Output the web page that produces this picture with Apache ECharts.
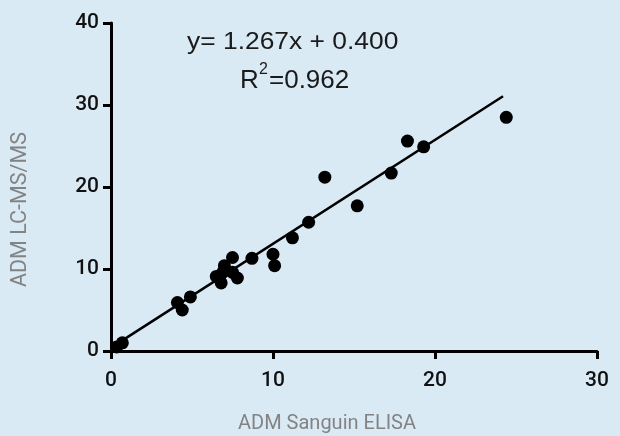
<!DOCTYPE html>
<html>
<head>
<meta charset="utf-8">
<script src="https://cdn.jsdelivr.net/npm/echarts@6/dist/echarts.min.js"></script>
<style>
  html, body { margin: 0; padding: 0; background: #daeaf5; }
  #chart { width: 620px; height: 436px; }
</style>
</head>
<body>
<div id="chart"></div>
<script>
// ELISA (x) vs LC-MS/MS (y)
const elisa = [0.35, 0.7, 4.1, 4.4, 4.9, 6.5, 6.8, 6.9, 7.0, 7.5, 7.5, 7.8, 8.7, 10.0, 10.1, 11.2, 12.2, 13.2, 15.2, 17.3, 18.3, 19.3, 24.4];
const lcms = [0.5, 1.0, 5.9, 5.0, 6.6, 9.1, 8.3, 9.6, 10.4, 11.4, 9.6, 8.9, 11.3, 11.8, 10.4, 13.8, 15.7, 21.2, 17.7, 21.7, 25.6, 24.9, 28.5];

const slope = 1.267;
const intercept = 0.400;
const fitRange = [0.2, 24.2];

const xTicks = [0, 10, 20, 30];
const yTicks = [0, 10, 20, 30, 40];

const points = elisa.map((x, i) => [x, lcms[i]]);
const fitLine = fitRange.map(x => [x, slope * x + intercept]);

const chart = echarts.init(document.getElementById('chart'), null, { renderer: 'canvas' });

const tickFont = { color: '#111', fontSize: 21, fontWeight: 500, fontFamily: 'Roboto' };
const axisStroke = { color: '#000', width: 3 };
const eqFont = '"Liberation Sans", Arial';

chart.setOption({
  backgroundColor: '#daeaf5',
  animation: false,
  grid: { left: 111, right: 23, top: 23, bottom: 85 },
  xAxis: {
    type: 'value',
    min: xTicks[0],
    max: xTicks[xTicks.length - 1],
    interval: 10,
    axisLine: { show: true, onZero: false, lineStyle: axisStroke },
    axisTick: { show: true, length: 8, lineStyle: axisStroke },
    splitLine: { show: false },
    axisLabel: Object.assign({ margin: 19 }, tickFont)
  },
  yAxis: {
    type: 'value',
    min: yTicks[0],
    max: yTicks[yTicks.length - 1],
    interval: 10,
    axisLine: { show: true, onZero: false, lineStyle: axisStroke },
    axisTick: { show: true, length: 8, lineStyle: axisStroke },
    splitLine: { show: false },
    axisLabel: Object.assign({ margin: 12 }, tickFont)
  },
  graphic: [
    {
      type: 'text', left: 187, top: 30, scaleX: 1.1,
      style: { text: 'y= 1.267x + 0.400', fill: '#1a1a1a', font: '24px ' + eqFont }
    },
    {
      type: 'text', left: 240, top: 68,
      style: { text: 'R', fill: '#1a1a1a', font: '26px ' + eqFont }
    },
    {
      type: 'text', left: 259, top: 62,
      style: { text: '2', fill: '#1a1a1a', font: '16px ' + eqFont }
    },
    {
      type: 'text', left: 269, top: 68,
      style: { text: '=0.962', fill: '#1a1a1a', font: '26px ' + eqFont }
    },
    {
      type: 'text', left: 238, top: 414,
      style: { text: 'ADM Sanguin ELISA', fill: '#838383', font: '20px Roboto' }
    },
    {
      type: 'text', left: 10, top: 132, rotation: Math.PI / 2,
      style: { text: 'ADM LC-MS/MS', fill: '#838383', font: '21.5px Roboto' }
    }
  ],
  series: [
    {
      type: 'line',
      data: fitLine,
      symbol: 'none',
      lineStyle: { color: '#000', width: 2.5 },
      z: 2
    },
    {
      type: 'scatter',
      data: points,
      symbol: 'circle',
      symbolSize: 13,
      itemStyle: { color: '#000', opacity: 1 },
      z: 3
    }
  ]
});
</script>
</body>
</html>
